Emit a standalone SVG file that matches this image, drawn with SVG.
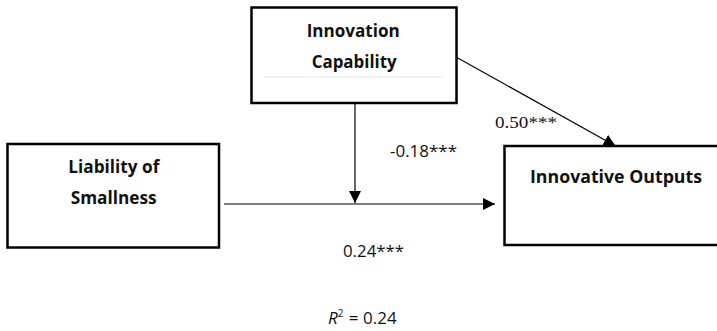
<svg xmlns="http://www.w3.org/2000/svg" width="717" height="331" viewBox="0 0 717 331">
<style>
.box{fill:#fff;stroke:#000;stroke-width:2.5}
.conn{stroke:#000;stroke-width:1.2;fill:none}
.lbl{font-family:"Open Sans","Liberation Sans",sans-serif;font-weight:bold;font-size:17px;fill:#111}
.num{font-family:"Open Sans","Liberation Sans",sans-serif;font-size:17px;fill:#111}
.ser{font-family:"Liberation Serif","Times New Roman",serif;font-size:17.5px;fill:#111}
</style>
<defs>
<marker id="ah" markerUnits="userSpaceOnUse" markerWidth="12" markerHeight="12" refX="12" refY="6" orient="auto">
<path d="M0,0 L12,6 L0,12 z" fill="#000"/>
</marker>
</defs>
<rect width="717" height="331" fill="#fff"/>
<g id="connectors">
<line class="conn" x1="355" y1="104" x2="355" y2="203" marker-end="url(#ah)"/>
<line class="conn" x1="224" y1="204" x2="495" y2="204" marker-end="url(#ah)"/>
<line class="conn" x1="456" y1="57" x2="615.6" y2="146" marker-end="url(#ah)"/>
</g>
<g id="innovation-capability">
<rect class="box" x="251.5" y="7.5" width="205" height="95.5"/>
<line x1="264" y1="77" x2="443" y2="77" stroke="#e6e6e6" stroke-width="1"/>
<text class="lbl" x="306.7" y="37" textLength="93" lengthAdjust="spacingAndGlyphs">Innovation</text>
<text class="lbl" x="311.7" y="68" textLength="85" lengthAdjust="spacingAndGlyphs">Capability</text>
</g>
<g id="liability-of-smallness">
<rect class="box" x="7.5" y="144" width="211.5" height="103.5"/>
<text class="lbl" x="68.3" y="173" textLength="91" lengthAdjust="spacingAndGlyphs">Liability of</text>
<text class="lbl" x="70.7" y="204" textLength="86" lengthAdjust="spacingAndGlyphs">Smallness</text>
</g>
<g id="innovative-outputs">
<path class="box" d="M720,146 L504.5,146 L504.5,245 L720,245"/>
<text class="lbl" x="530" y="183" textLength="172" lengthAdjust="spacingAndGlyphs">Innovative Outputs</text>
</g>
<g id="labels">
<text class="ser" x="495" y="128" textLength="62" lengthAdjust="spacingAndGlyphs">0.50***</text>
<text class="num" x="390" y="157" textLength="67" lengthAdjust="spacingAndGlyphs">-0.18***</text>
<text class="num" x="343" y="257" textLength="61" lengthAdjust="spacingAndGlyphs">0.24***</text>
<text class="num" x="328" y="324"><tspan font-style="italic">R</tspan><tspan dy="-7" font-size="10">2</tspan><tspan dy="7" dx="1"> = 0.24</tspan></text>
</g>
</svg>
